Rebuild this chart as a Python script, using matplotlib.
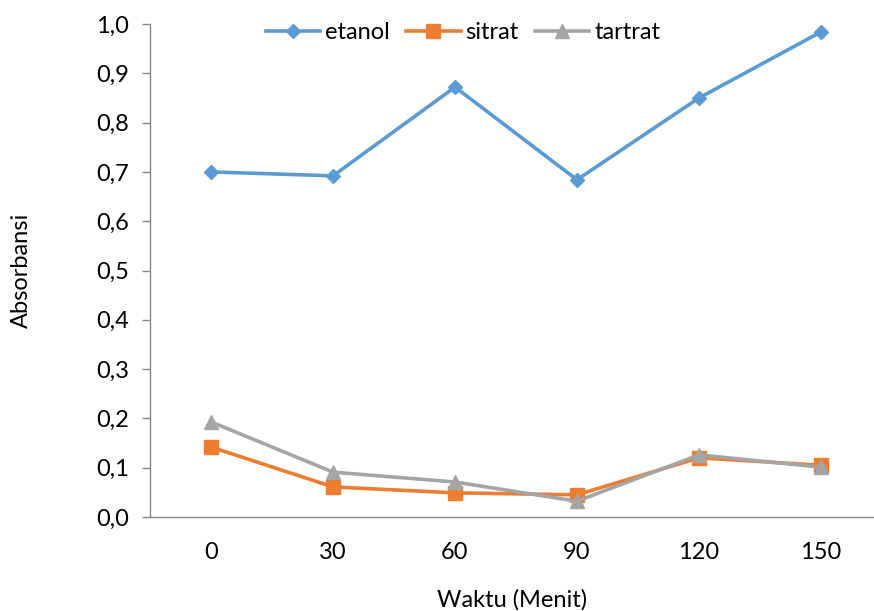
import matplotlib.pyplot as plt

plt.rcParams['font.family'] = ['Lato', 'DejaVu Sans']

waktu = ['0', '30', '60', '90', '120', '150']
etanol = [0.700, 0.692, 0.872, 0.684, 0.850, 0.984]
sitrat = [0.142, 0.061, 0.049, 0.045, 0.120, 0.105]
tartrat = [0.193, 0.091, 0.071, 0.032, 0.126, 0.101]

x = list(range(len(waktu)))

fig = plt.figure(figsize=(8.74, 6.11), dpi=100)
ax = fig.add_axes([150 / 874, 1 - 517 / 611, 732 / 874, (517 - 24) / 611])

ax.plot(x, etanol, color='#5B9BD5', lw=2.6, marker='D', ms=7.5, label='etanol')
ax.plot(x, sitrat, color='#ED7D31', lw=2.6, marker='s', ms=9.5, label='sitrat')
ax.plot(x, tartrat, color='#A5A5A5', lw=2.6, marker='^', ms=10.5, label='tartrat')

ax.set_xlim(-0.5, 5.5)
ax.set_ylim(0, 1.0)
ax.set_xticks(x)
ax.set_xticklabels(waktu)
yt = [i / 10 for i in range(11)]
ax.set_yticks(yt)
ax.set_yticklabels([f'{v:.1f}'.replace('.', ',') for v in yt])
ax.tick_params(axis='x', length=0, labelsize=17, pad=18, colors='#000000')
ax.tick_params(axis='y', length=6, width=1, color='#868686', labelsize=17, pad=9)

for s in ['top', 'right']:
    ax.spines[s].set_visible(False)
for s in ['left', 'bottom']:
    ax.spines[s].set_color('#868686')
    ax.spines[s].set_linewidth(1)

ax.set_xlabel('Waktu (Menit)', fontsize=17)
ax.set_ylabel('Absorbansi', fontsize=17, labelpad=46)
ax.xaxis.set_label_coords((512 - 150) / 732, -(589 - 517) / 493)

ax.legend(loc='upper center', bbox_to_anchor=((463 - 150) / 732, 1.047), ncol=3, frameon=False,
          fontsize=17, handlelength=2.3, columnspacing=0.7, handletextpad=0.2)

fig.savefig('out.png', dpi=100)
